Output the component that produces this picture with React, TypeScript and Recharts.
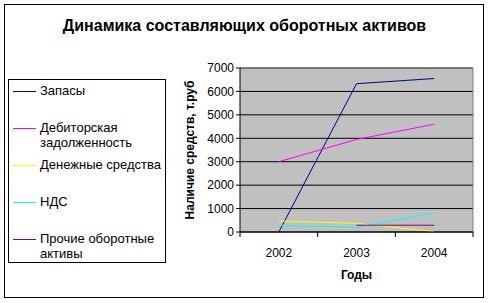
import { LineChart, Line, XAxis, YAxis, CartesianGrid, ReferenceLine } from 'recharts';

const years = ['2002', '2003', '2004'];
const zapasy = [0, 6330, 6550];
const debitor = [3000, 3950, 4600];
const dengi = [470, 370, 20];
const nds = [290, 200, 810];
const prochie = [null, 290, 290];
const yTicks = [0, 1000, 2000, 3000, 4000, 5000, 6000, 7000];

const series = [
  { key: 'zapasy', name: 'Запасы', color: '#000080', lines: ['Запасы'] },
  { key: 'debitor', name: 'Дебиторская задолженность', color: '#FF00FF', lines: ['Дебиторская', 'задолженность'] },
  { key: 'dengi', name: 'Денежные средства', color: '#FFFF00', lines: ['Денежные средства'] },
  { key: 'nds', name: 'НДС', color: '#00FFFF', lines: ['НДС'] },
  { key: 'prochie', name: 'Прочие оборотные активы', color: '#800080', lines: ['Прочие оборотные', 'активы'] },
];

const data = years.map((y, i) => ({
  pos: i + 0.5,
  year: y,
  zapasy: zapasy[i],
  debitor: debitor[i],
  dengi: dengi[i],
  nds: nds[i],
  prochie: prochie[i],
}));

const FONT = 'Arial, "Liberation Sans", sans-serif';
const bounds = years.map((_, i) => i).concat([years.length]);
const mids = years.map((_, i) => i + 0.5);

export default function App() {
  return (
    <div style={{ position: 'absolute', left: 0, top: 0, width: 489, height: 303, background: '#fff', fontFamily: FONT }}>
      <div style={{ position: 'absolute', left: 4, top: 4, width: 478, height: 292, border: '1px solid #000' }} />
      <div style={{ position: 'absolute', left: 0, top: 17, width: 489, textAlign: 'center', fontWeight: 'bold', fontSize: 16 }}>
        Динамика составляющих оборотных активов
      </div>
      <div style={{ position: 'absolute', left: 8, top: 79, width: 156, height: 182, border: '1px solid #000', fontSize: 13 }}>
        {series.map((s, i) => (
          <div key={s.key} style={{ position: 'absolute', left: 0, top: 3 + i * 37, width: 156 }}>
            <div style={{ position: 'absolute', left: 4, top: 8, width: 23, height: 1, background: s.color }} />
            <div style={{ position: 'absolute', left: 31, top: 0, lineHeight: '15px', whiteSpace: 'nowrap' }}>
              {s.lines.map((l) => (
                <div key={l}>{l}</div>
              ))}
            </div>
          </div>
        ))}
      </div>
      <div style={{ position: 'absolute', left: 0, top: 0 }}>
        <LineChart width={489} height={303} data={data} margin={{ top: 68, right: 16, bottom: 26, left: 180 }}>
          <CartesianGrid vertical={false} stroke="#000" fill="#C0C0C0" strokeOpacity={1} />
          <ReferenceLine y={7000} stroke="#808080" />
          <ReferenceLine x={years.length} stroke="#808080" />
          <XAxis
            dataKey="pos"
            type="number"
            domain={[0, years.length]}
            ticks={bounds}
            tickFormatter={() => ''}
            height={5}
            tickSize={5}
            stroke="#000"
            allowDataOverflow
          />
          <XAxis
            xAxisId="lbl"
            dataKey="pos"
            type="number"
            domain={[0, years.length]}
            ticks={mids}
            tickFormatter={(v: number) => years[Math.floor(v)]}
            axisLine={false}
            tickLine={false}
            height={40}
            tickMargin={5}
            tick={{ fill: '#000', fontSize: 12, fontFamily: FONT }}
            label={{
              content: ({ viewBox }: any) => (
                <text x={viewBox.x + viewBox.width / 2} y={viewBox.y + 42} textAnchor="middle" fontWeight="bold" fontSize={12} fontFamily={FONT} fill="#000">
                  Годы
                </text>
              ),
            }}
          />
          <YAxis
            width={60}
            domain={[0, 7000]}
            ticks={yTicks}
            interval={0}
            tickSize={4}
            stroke="#000"
            tick={{ fill: '#000', fontSize: 12, fontFamily: FONT }}
            label={{
              content: ({ viewBox }: any) => (
                <text
                  x={viewBox.x + 14}
                  y={viewBox.y + viewBox.height / 2}
                  textAnchor="middle"
                  fontWeight="bold"
                  fontSize={12}
                  fontFamily={FONT}
                  fill="#000"
                  transform={`rotate(-90 ${viewBox.x + 14} ${viewBox.y + viewBox.height / 2})`}
                >
                  Наличие средств, т.руб
                </text>
              ),
            }}
          />
          {series.map((s) => (
            <Line
              key={s.key}
              dataKey={s.key}
              name={s.name}
              stroke={s.color}
              strokeWidth={1}
              dot={false}
              activeDot={false}
              type="linear"
              isAnimationActive={false}
            />
          ))}
        </LineChart>
      </div>
    </div>
  );
}
